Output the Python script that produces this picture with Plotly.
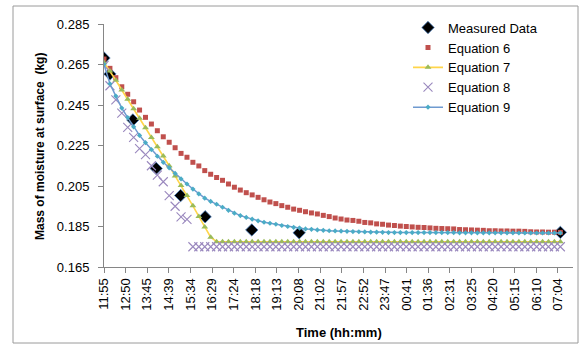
import plotly.graph_objects as go

# ---------------- data ----------------
tick_labels = ["11:55", "12:50", "13:45", "14:39", "15:34", "16:29", "17:24", "18:18",
               "19:13", "20:08", "21:02", "21:57", "22:52", "23:47", "00:41", "01:36",
               "02:31", "03:25", "04:20", "05:15", "06:10", "07:04"]

# minutes elapsed since 11:55
measured_time = [0, 15, 73, 132, 194, 256, 374, 494, 1155]
measured_mass = [0.2682, 0.2603, 0.2376, 0.2137, 0.2003, 0.1898, 0.1833, 0.1819, 0.1821]

eq_time = [0, 15, 30, 45, 60, 75, 90, 105, 120, 135, 150, 165, 180, 195, 210, 225,
           240, 255, 270, 285, 300, 315, 330, 345, 360, 375, 390, 405, 420, 435, 450,
           465, 480, 495, 510, 525, 540, 555, 570, 585, 600, 615, 630, 645, 660, 675,
           690, 705, 720, 735, 750, 765, 780, 795, 810, 825, 840, 855, 870, 885, 900,
           915, 930, 945, 960, 975, 990, 1005, 1020, 1035, 1050, 1065, 1080, 1095,
           1110, 1125, 1140, 1155]

eq6 = [0.2677, 0.2631, 0.2585, 0.2540, 0.2503, 0.2466, 0.2425, 0.2389, 0.2356, 0.2323,
       0.2293, 0.2266, 0.2239, 0.2211, 0.2192, 0.2167, 0.2149, 0.2126, 0.2108, 0.2092,
       0.2078, 0.2060, 0.2044, 0.2030, 0.2017, 0.2006, 0.1994, 0.1982, 0.1971, 0.1963,
       0.1953, 0.1945, 0.1936, 0.1930, 0.1923, 0.1917, 0.1912, 0.1905, 0.1899, 0.1892,
       0.1887, 0.1882, 0.1880, 0.1876, 0.1870, 0.1868, 0.1863, 0.1861, 0.1857, 0.1855,
       0.1852, 0.1850, 0.1848, 0.1846, 0.1845, 0.1843, 0.1841, 0.1840, 0.1839, 0.1838,
       0.1835, 0.1834, 0.1833, 0.1832, 0.1831, 0.1829, 0.1829, 0.1828, 0.1828, 0.1827,
       0.1827, 0.1826, 0.1824, 0.1823, 0.1823, 0.1822, 0.1822, 0.1821]

eq7 = [0.2660, 0.2618, 0.2572, 0.2524, 0.2478, 0.2432, 0.2385, 0.2338, 0.2290, 0.2244,
       0.2198, 0.2150, 0.2100, 0.2052, 0.2003, 0.1952, 0.1900, 0.1848, 0.1797, 0.1775,
       0.1775, 0.1775, 0.1775, 0.1775, 0.1775, 0.1775, 0.1775, 0.1775, 0.1775, 0.1775,
       0.1775, 0.1775, 0.1775, 0.1775, 0.1775, 0.1775, 0.1775, 0.1775, 0.1775, 0.1775,
       0.1775, 0.1775, 0.1775, 0.1775, 0.1775, 0.1775, 0.1775, 0.1775, 0.1775, 0.1775,
       0.1775, 0.1775, 0.1775, 0.1775, 0.1775, 0.1775, 0.1775, 0.1775, 0.1775, 0.1775,
       0.1775, 0.1775, 0.1775, 0.1775, 0.1775, 0.1775, 0.1775, 0.1775, 0.1775, 0.1775,
       0.1775, 0.1775, 0.1775, 0.1775, 0.1775, 0.1775, 0.1775, 0.1775]

eq8 = [0.2645, 0.2545, 0.2475, 0.2410, 0.2340, 0.2290, 0.2235, 0.2205, 0.2150, 0.2104,
       0.2071, 0.2003, 0.1950, 0.1898, 0.1885, 0.1750, 0.1750, 0.1750, 0.1750, 0.1750,
       0.1750, 0.1750, 0.1750, 0.1750, 0.1750, 0.1750, 0.1750, 0.1750, 0.1750, 0.1750,
       0.1750, 0.1750, 0.1750, 0.1750, 0.1750, 0.1750, 0.1750, 0.1750, 0.1750, 0.1750,
       0.1750, 0.1750, 0.1750, 0.1750, 0.1750, 0.1750, 0.1750, 0.1750, 0.1750, 0.1750,
       0.1750, 0.1750, 0.1750, 0.1750, 0.1750, 0.1750, 0.1750, 0.1750, 0.1750, 0.1750,
       0.1750, 0.1750, 0.1750, 0.1750, 0.1750, 0.1750, 0.1750, 0.1750, 0.1750, 0.1750,
       0.1750, 0.1750, 0.1750, 0.1750, 0.1750, 0.1750, 0.1750, 0.1750]

eq9 = [0.2650, 0.2555, 0.2494, 0.2435, 0.2388, 0.2342, 0.2300, 0.2264, 0.2230, 0.2197,
       0.2167, 0.2140, 0.2112, 0.2085, 0.2060, 0.2035, 0.2011, 0.1990, 0.1974, 0.1960,
       0.1945, 0.1930, 0.1916, 0.1904, 0.1895, 0.1886, 0.1878, 0.1871, 0.1866, 0.1861,
       0.1855, 0.1850, 0.1846, 0.1842, 0.1838, 0.1836, 0.1833, 0.1831, 0.1829, 0.1828,
       0.1827, 0.1826, 0.1825, 0.1824, 0.1823, 0.1822, 0.1822, 0.1821, 0.1820, 0.1820,
       0.1820, 0.1820, 0.1820, 0.1820, 0.1820, 0.1820, 0.1820, 0.1820, 0.1820, 0.1820,
       0.1819, 0.1819, 0.1819, 0.1819, 0.1819, 0.1819, 0.1819, 0.1819, 0.1819, 0.1819,
       0.1818, 0.1818, 0.1818, 0.1818, 0.1818, 0.1818, 0.1818, 0.1818]

# ---------------- layout constants ----------------
W, H = 584, 350
PL, PR, PT, PB = 104, 573, 24, 267          # plot area in pixels
MAJOR = 1149 / 21                             # minutes between time labels
X_MAX = 1187
FONT = "Liberation Sans"

fig = go.Figure()

fig.add_trace(go.Scatter(
    x=measured_time, y=measured_mass, name="Measured Data", mode="markers",
    marker=dict(symbol="diamond", size=9.5, color="black",
                line=dict(color="#4A7EBB", width=0.8))))

fig.add_trace(go.Scatter(
    x=eq_time, y=eq6, name="Equation 6", mode="markers",
    marker=dict(symbol="square", size=5, color="#C0504D")))

fig.add_trace(go.Scatter(
    x=eq_time, y=eq7, name="Equation 7", mode="lines+markers",
    line=dict(color="#FFD54A", width=1.6),
    marker=dict(symbol="triangle-up", size=6, color="#9BBB59")))

fig.add_trace(go.Scatter(
    x=eq_time, y=eq8, name="Equation 8", mode="markers",
    marker=dict(symbol="x-thin", size=9, color="#9A88BE",
                line=dict(color="#9A88BE", width=1.1))))

fig.add_trace(go.Scatter(
    x=eq_time, y=eq9, name="Equation 9", mode="lines+markers",
    line=dict(color="#6F9AD0", width=1.5),
    marker=dict(symbol="diamond", size=4, color="#4BACC6")))

tickvals = [i * MAJOR for i in range(len(tick_labels))]

fig.update_layout(
    width=W, height=H,
    margin=dict(l=PL, r=W - PR, t=PT, b=H - PB, pad=0),
    paper_bgcolor="white", plot_bgcolor="white",
    font=dict(family=FONT, size=13, color="#000000"),
    showlegend=True,
    legend=dict(x=(408 - PL) / (PR - PL), y=1.047, xanchor="left", yanchor="top",
                bgcolor="rgba(0,0,0,0)", font=dict(size=13, family=FONT),
                tracegroupgap=0, itemwidth=30),
    xaxis=dict(range=[0, X_MAX], tickmode="array", tickvals=tickvals,
               ticktext=tick_labels, tickangle=-90, ticks="outside", ticklen=5,
               tickcolor="#868686", showline=True, linecolor="#868686",
               linewidth=1, showgrid=False, zeroline=False,
               tickfont=dict(size=13, family=FONT)),
    yaxis=dict(range=[0.165, 0.285], tick0=0.165, dtick=0.02, tickformat=".3f",
               ticks="outside", ticklen=5, tickcolor="#868686", showline=True,
               linecolor="#868686", linewidth=1, showgrid=False, zeroline=False,
               tickfont=dict(size=13, family=FONT), ticklabelstandoff=6),
    annotations=[
        dict(text="<b>Time (hh:mm)</b>", xref="paper", yref="paper",
             x=0.5, y=(PB - 332) / (PB - PT), xanchor="center", yanchor="middle",
             showarrow=False, font=dict(size=13, family=FONT)),
        dict(text="<b>Mass of moisture at surface  (kg)</b>", xref="paper", yref="paper",
             x=(40 - PL) / (PR - PL), y=(PB - 147) / (PB - PT), textangle=-90,
             xanchor="center", yanchor="middle", showarrow=False,
             font=dict(size=12, family=FONT)),
    ],
    shapes=[dict(type="rect", xref="paper", yref="paper",
                 x0=(13 - PL) / (PR - PL), x1=(578 - PL) / (PR - PL),
                 y0=(PB - 343) / (PB - PT), y1=(PB - 6) / (PB - PT),
                 line=dict(color="#9A9A9A", width=1), layer="below")],
)

fig.write_html("out.html")
